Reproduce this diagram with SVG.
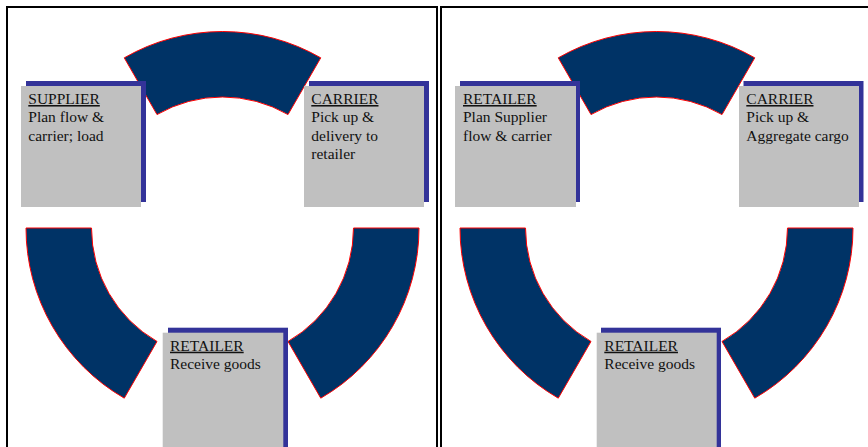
<svg xmlns="http://www.w3.org/2000/svg" width="868" height="447" viewBox="0 0 868 447">
  <style>
    .frame { fill: #ffffff; stroke: #000000; stroke-width: 2; }
    .arc { fill: #003366; stroke: #ff0000; stroke-width: 1; }
    .shadow { fill: #333399; }
    .box { fill: #c0c0c0; }
    .t { font-family: "Liberation Serif", "Times New Roman", serif; font-size: 15.5px; fill: #111111; }
    .u { text-decoration: underline; }
  </style>
  <rect x="0" y="0" width="868" height="447" fill="#ffffff"/>

  <g id="panel-left">
    <rect class="frame" x="7" y="7" width="430" height="460"/>
    <g id="connectors-left">
      <path class="arc" d="M124.25,57.83 A196.5,196.5 0 0 1 320.75,57.83 L288,114.55 A131,131 0 0 0 157,114.55 Z"/>
      <path class="arc" d="M26,228 L91.5,228 A131,131 0 0 0 157,341.45 L124.25,398.17 A196.5,196.5 0 0 1 26,228 Z"/>
      <path class="arc" d="M353.5,228 L419,228 A196.5,196.5 0 0 1 320.75,398.17 L288,341.45 A131,131 0 0 0 353.5,228 Z"/>
    </g>
    <g id="left-supplier">
      <rect class="shadow" x="26" y="81" width="120" height="121"/>
      <rect class="box" x="21" y="86" width="120" height="121"/>
      <text class="t" x="28.3" y="104"><tspan class="u">SUPPLIER</tspan><tspan x="28.3" y="122.3">Plan flow &amp;</tspan><tspan x="28.3" y="140.6">carrier; load</tspan></text>
    </g>
    <g id="left-carrier">
      <rect class="shadow" x="309" y="81" width="120" height="121"/>
      <rect class="box" x="304" y="86" width="120" height="121"/>
      <text class="t" x="311.3" y="104"><tspan class="u">CARRIER</tspan><tspan x="311.3" y="122.3">Pick up &amp;</tspan><tspan x="311.3" y="140.6">delivery to</tspan><tspan x="311.3" y="158.9">retailer</tspan></text>
    </g>
    <g id="left-retailer">
      <rect class="shadow" x="168" y="327.7" width="120" height="130"/>
      <rect class="box" x="162.7" y="332.7" width="120.6" height="130"/>
      <text class="t" x="170" y="350.7"><tspan class="u">RETAILER</tspan><tspan x="170" y="369">Receive goods</tspan></text>
    </g>
  </g>

  <g id="panel-right">
    <rect class="frame" x="441" y="7" width="440" height="460"/>
    <g id="connectors-right">
      <path class="arc" d="M558.25,57.83 A196.5,196.5 0 0 1 754.75,57.83 L722,114.55 A131,131 0 0 0 591,114.55 Z"/>
      <path class="arc" d="M460,228 L525.5,228 A131,131 0 0 0 591,341.45 L558.25,398.17 A196.5,196.5 0 0 1 460,228 Z"/>
      <path class="arc" d="M787.5,228 L853,228 A196.5,196.5 0 0 1 754.75,398.17 L722,341.45 A131,131 0 0 0 787.5,228 Z"/>
    </g>
    <g id="right-retailer-plan">
      <rect class="shadow" x="460" y="81" width="120" height="121"/>
      <rect class="box" x="455" y="86" width="121" height="121"/>
      <text class="t" x="463" y="104"><tspan class="u">RETAILER</tspan><tspan x="463" y="122.3">Plan Supplier</tspan><tspan x="463" y="140.6">flow &amp; carrier</tspan></text>
    </g>
    <g id="right-carrier">
      <rect class="shadow" x="743.5" y="81" width="120" height="121"/>
      <rect class="box" x="739" y="86" width="120" height="121"/>
      <text class="t" x="746.3" y="104"><tspan class="u">CARRIER</tspan><tspan x="746.3" y="122.3">Pick up &amp;</tspan><tspan x="746.3" y="140.6">Aggregate cargo</tspan></text>
    </g>
    <g id="right-retailer-receive">
      <rect class="shadow" x="601" y="327.7" width="120" height="130"/>
      <rect class="box" x="596.7" y="332.7" width="120" height="130"/>
      <text class="t" x="604.3" y="350.7"><tspan class="u">RETAILER</tspan><tspan x="604.3" y="369">Receive goods</tspan></text>
    </g>
  </g>
</svg>
